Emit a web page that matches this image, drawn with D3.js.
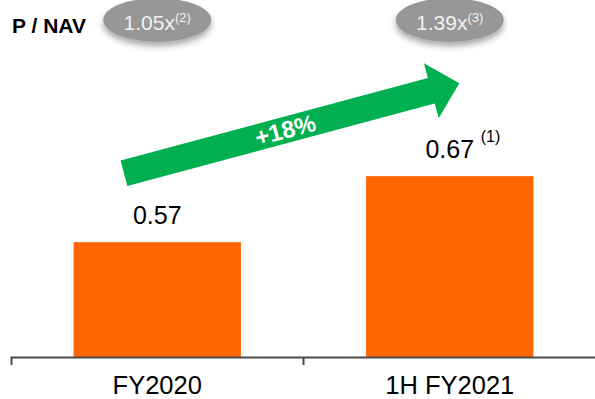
<!DOCTYPE html>
<html>
<head>
<meta charset="utf-8">
<script src="https://cdn.jsdelivr.net/npm/d3@7"></script>
<style>
  html, body { margin: 0; padding: 0; background: #fff; }
  svg { display: block; font-family: Arial, "Liberation Sans", sans-serif; }
</style>
</head>
<body>
<svg id="chart" width="595" height="399"></svg>
<script>
const categories = ["FY2020", "1H FY2021"];
const values = [0.57, 0.67];
const valueLabels = ["0.57", "0.67"];
const valueNotes = ["", "(1)"];
const pnavValues = ["1.05x", "1.39x"];
const pnavNotes = ["(2)", "(3)"];
const growthLabel = "+18%";
const title = "P / NAV";

const W = 595, H = 399;
const svg = d3.select("#chart");

const defs = svg.append("defs");
const f = defs.append("filter").attr("id", "shadow")
  .attr("x", "-30%").attr("y", "-30%").attr("width", "160%").attr("height", "180%");
f.append("feDropShadow").attr("dx", 0).attr("dy", 4).attr("stdDeviation", 3)
  .attr("flood-color", "#000").attr("flood-opacity", 0.35);

const x = d3.scaleBand().domain(categories).range([11, 596]).paddingInner(0.428).paddingOuter(0.214);
// band boundaries for ticks
const xb = d3.scaleBand().domain(categories).range([11, 596]).padding(0);
const y = d3.scaleLinear().domain([0.396, 0.396 + 357 / 660]).range([357, 0]);

// bars
svg.append("g").selectAll("rect").data(values).join("rect")
  .attr("x", (d, i) => x(categories[i]))
  .attr("width", x.bandwidth())
  .attr("y", d => y(d))
  .attr("height", d => y.range()[0] - y(d))
  .attr("fill", "#FF6600");

// axis
const axis = d3.axisBottom(xb).tickSize(0).tickSizeOuter(8).tickPadding(0);
const gAxis = svg.append("g").attr("transform", `translate(0,${y.range()[0]})`).call(axis);
gAxis.select(".domain").attr("stroke", "#4a4a4a").attr("stroke-width", 2);
gAxis.selectAll(".tick line").remove();
gAxis.selectAll(".tick text")
  .attr("y", 36.5).attr("dy", 0)
  .attr("font-size", 25.5).attr("fill", "#000")
  .attr("font-family", 'Arial, "Liberation Sans", sans-serif');
// internal band boundary ticks
gAxis.append("g").selectAll("line").data(categories.slice(1)).join("line")
  .attr("x1", d => xb(d)).attr("x2", d => xb(d))
  .attr("y1", 0).attr("y2", 8)
  .attr("stroke", "#4a4a4a").attr("stroke-width", 2);

// value labels
const cx = c => x(c) + x.bandwidth() / 2;
svg.append("g").selectAll("text").data(values).join("text")
  .attr("x", (d, i) => cx(categories[i]))
  .attr("y", d => y(d) - 18)
  .attr("text-anchor", "middle")
  .attr("font-size", 25).attr("fill", "#000")
  .text((d, i) => valueLabels[i]);
svg.append("g").selectAll("text").data(values).join("text")
  .attr("x", (d, i) => cx(categories[i]) + 31)
  .attr("y", d => y(d) - 34)
  .attr("font-size", 16).attr("fill", "#000")
  .text((d, i) => valueNotes[i]);

// title
svg.append("text").attr("x", 12).attr("y", 33)
  .attr("font-size", 21).attr("font-weight", "bold").attr("fill", "#000")
  .text(title);

// P/NAV ellipses
const gE = svg.append("g");
categories.forEach((c, i) => {
  const ex = cx(c);
  gE.append("ellipse").attr("cx", ex).attr("cy", 20).attr("rx", 54).attr("ry", 22)
    .attr("fill", "#979797").attr("filter", "url(#shadow)");
  const t = gE.append("text").attr("x", ex).attr("y", 30)
    .attr("text-anchor", "middle").attr("fill", "#f2f2f2");
  t.append("tspan").attr("font-size", 21).text(pnavValues[i]);
  t.append("tspan").attr("font-size", 13).attr("dy", -8).text(pnavNotes[i]);
});

// growth arrow (local frame: x along arrow)
const tail = [124, 173.2], tip = [459.3, 83.3];
const len = Math.hypot(tip[0] - tail[0], tip[1] - tail[1]);
const ang = Math.atan2(tip[1] - tail[1], tip[0] - tail[0]) * 180 / Math.PI;
const hw = 13.2, headBack = len - 29, headHW = 28.5;
const ga = svg.append("g").attr("transform", `translate(${tail[0]},${tail[1]}) rotate(${ang})`);
ga.append("path")
  .attr("d", `M0,${-hw} L${headBack},${-hw} L${headBack},${-headHW} L${len},0 L${headBack},${headHW} L${headBack},${hw} L0,${hw} Z`)
  .attr("fill", "#00B050");
ga.append("text").attr("x", 167).attr("y", 8.5)
  .attr("text-anchor", "middle").attr("font-size", 24).attr("font-weight", "bold")
  .attr("fill", "#fff").text(growthLabel);
</script>
</body>
</html>
